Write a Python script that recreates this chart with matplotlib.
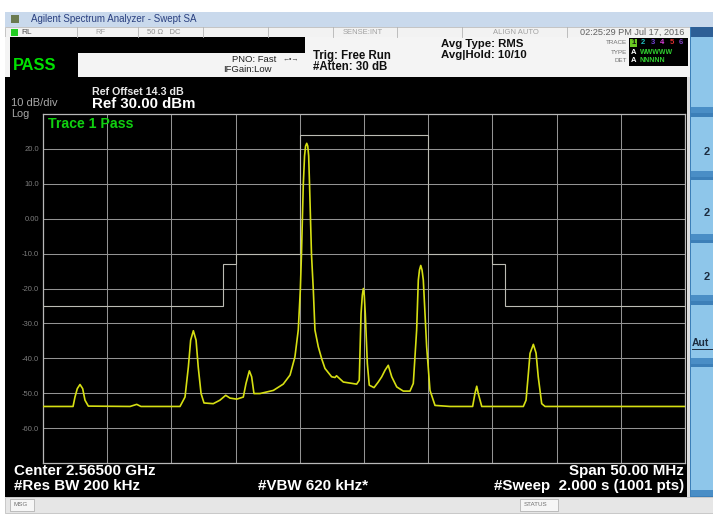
import matplotlib
matplotlib.use("Agg")
import matplotlib.pyplot as plt
from matplotlib.patches import Rectangle

plt.rcParams['font.family'] = ['Liberation Sans', 'DejaVu Sans']

freq_mhz = [2540.00, 2542.34, 2542.49, 2542.67, 2542.88, 2543.09, 2543.27, 2543.53,
            2546.78, 2547.30, 2547.63, 2550.67, 2551.06, 2551.32, 2551.50, 2551.71,
            2551.92, 2552.09, 2552.31, 2552.54, 2553.26, 2553.78, 2554.23, 2554.56,
            2555.09, 2555.60, 2555.81, 2556.07, 2556.25, 2556.43, 2556.90, 2557.94,
            2558.71, 2559.24, 2559.62, 2559.88, 2560.04, 2560.13, 2560.27, 2560.37,
            2560.45, 2560.54, 2560.62, 2560.69, 2560.76, 2560.91, 2561.05, 2561.18,
            2561.44, 2561.71, 2561.96, 2562.48, 2562.74, 2562.86, 2563.39, 2564.43,
            2564.63, 2564.77, 2564.87, 2564.95, 2565.02, 2565.10, 2565.26, 2565.41,
            2565.78, 2566.11, 2566.38, 2566.64, 2566.89, 2567.16, 2567.55, 2568.06,
            2568.58, 2568.84, 2569.10, 2569.23, 2569.32, 2569.42, 2569.52, 2569.62,
            2569.88, 2570.14, 2570.53, 2571.70, 2573.46, 2573.64, 2573.78, 2573.90,
            2574.17, 2577.41, 2577.62, 2577.80, 2577.93, 2578.19, 2578.40, 2578.57,
            2578.84, 2579.10, 2590.00]
level_dbm = [-53.8, -53.8, -51.1, -48.7, -47.5, -48.7, -52.0, -53.7,
             -53.8, -53.2, -53.8, -53.8, -51.1, -42.5, -34.8, -32.1,
             -34.8, -42.5, -50.1, -52.8, -53.0, -52.0, -50.6, -51.4,
             -51.7, -51.1, -47.2, -43.6, -45.3, -50.1, -50.1, -49.2,
             -47.4, -44.8, -39.6, -31.9, -20.5, -10.2, 9.6, 18.0,
             20.8, 21.6, 20.8, 18.0, 9.6, -10.2, -20.2, -31.9,
             -36.7, -40.2, -42.9, -45.3, -45.5, -45.0, -46.8, -47.4,
             -46.3, -27.2, -21.9, -20.0, -21.9, -27.2, -41.5, -47.7,
             -48.4, -46.8, -45.3, -43.4, -42.0, -45.3, -48.2, -49.4,
             -49.4, -47.2, -31.9, -17.6, -14.7, -13.4, -14.7, -17.6,
             -36.7, -49.2, -53.5, -53.8, -53.8, -50.1, -48.0, -50.1,
             -53.8, -53.8, -52.0, -44.4, -38.6, -36.0, -38.5, -45.3,
             -53.0, -53.8, -53.8]

mask_edges_mhz = [2540, 2554, 2555, 2560, 2570, 2575, 2576, 2590]
mask_levels_dbm = [-25, -13, -10, 24, -10, -13, -25]

y_ticks = [20, 10, 0, -10, -20, -30, -40, -50, -60]
y_tick_labels = ["20.0", "10.0", "0.00", "-10.0", "-20.0", "-30.0", "-40.0", "-50.0", "-60.0"]
x_grid_mhz = [2545, 2550, 2555, 2560, 2565, 2570, 2575, 2580, 2585]

W, H = 713, 516
fig = plt.figure(figsize=(W / 100, H / 100), dpi=100)
fig.patch.set_facecolor('white')

bg = fig.add_axes([0, 0, 1, 1], zorder=0)
bg.set_xlim(0, W)
bg.set_ylim(H, 0)
bg.axis('off')


def rect(x0, y0, x1, y1, fc, ec='none', lw=0):
    bg.add_patch(Rectangle((x0, y0), x1 - x0, y1 - y0, facecolor=fc, edgecolor=ec, linewidth=lw))


def txt(x, y, s, size=7, color='black', weight='normal', ha='left', va='center', **kw):
    fig.text(x / W, 1 - y / H, s, fontsize=size, color=color, fontweight=weight, ha=ha, va=va, **kw)


# window pieces
rect(5, 12, 713, 27, '#c9d9ec')                       # title bar
rect(5, 27, 690, 37, '#f2f2f2', '#b0b0b0', 0.5)        # status row
for xv in [77, 138, 203, 268, 333, 397, 462, 567]:
    bg.plot([xv, xv], [27, 37], color='#b4b4b4', lw=0.6)
rect(11, 28.5, 18, 35.5, '#22cc22')
rect(5, 37, 690, 77, '#f4f4f4')                        # settings area
rect(10, 37, 305, 53, 'black')
rect(10, 53, 78, 77, 'black')
rect(5, 77, 688, 497, 'black')                          # display
rect(687, 77, 690, 497, '#dcdcdc')
rect(5, 497, 713, 513, '#e6e6e6', '#b8b8b8', 0.5)      # message bar
rect(10, 499, 34, 511, '#f6f6f6', '#a8a8a8', 0.5)
rect(520, 499, 558, 511, '#f6f6f6', '#a8a8a8', 0.5)

# trace/type/det box
rect(629, 38, 688, 66, 'black')

# softkey panel
rect(690, 27, 713, 497, '#3c7fb8')
for (y0, y1) in [(37, 113), (117, 177), (180, 240), (243, 301), (305, 364), (367, 496)]:
    rect(691, y0, 713, y1, '#8ec6ea')
    rect(691, y1 - 6, 713, y1, '#4a8ec6')
rect(691, 27, 713, 37, '#2d5f96')

# icon in title bar
rect(11, 15, 19, 23, '#6a7a50')

# ---------------- graticule ----------------
ax = fig.add_axes([43 / W, (H - 463) / H, 642 / W, 349 / H], zorder=1)
ax.set_facecolor('black')
ax.set_xlim(2540, 2590)
ax.set_ylim(-70, 30)
ax.set_xticks(x_grid_mhz)
ax.set_xticklabels([])
ax.set_yticks(y_ticks)
ax.set_yticklabels(y_tick_labels, fontsize=5.5, color='#7c7c7c')
ax.tick_params(length=0, pad=3)
ax.grid(True, color='#939393', lw=0.75)
for s in ax.spines.values():
    s.set_color('#b8b8b8')
    s.set_linewidth(0.9)

ax.stairs(mask_levels_dbm, mask_edges_mhz, baseline=None, color='#bcbcb4', lw=0.8, zorder=3)
ax.plot(freq_mhz, level_dbm, color='#d6df12', lw=1.2, zorder=4, solid_joinstyle='round')

# ---------------- texts ----------------
txt(31, 19.5, "Agilent Spectrum Analyzer - Swept SA", 7, '#2a4080')
txt(21, 32, "RL", 6, '#505050')
txt(95, 32, "RF", 5.5, '#a0a0a0')
txt(147, 32, "50 \u03a9   DC", 5.5, '#909090')
txt(343, 32, "SENSE:INT", 5.5, '#a0a0a0')
txt(493, 32, "ALIGN AUTO", 5.5, '#a0a0a0')
txt(684, 32, "02:25:29 PM Jul 17, 2016", 6.6, '#606060', ha='right')

txt(13, 65, "PASS", 11.8, '#00e000', 'bold')
txt(232, 59, "PNO: Fast", 6.8, '#202020')
txt(283, 58.5, "\u2190\u2022\u2192", 5, '#404040')
txt(223, 69, "IFGain:Low", 6.8, '#202020')
txt(313, 56, "Trig: Free Run", 8.3, '#101010', 'bold')
txt(313, 67, "#Atten: 30 dB", 8.3, '#101010', 'bold')
txt(441, 44, "Avg Type: RMS", 8.2, '#101010', 'bold')
txt(441, 55, "Avg|Hold: 10/10", 8.2, '#101010', 'bold')

txt(627, 43, "TRACE", 4.5, '#707070', ha='right')
txt(627, 52, "TYPE", 4.5, '#707070', ha='right')
txt(627, 61, "DET", 4.5, '#707070', ha='right')
rect(630, 39, 637, 47, '#6ac822')
trace_cols = ['#101010', '#20c0c0', '#7040d0', '#e040e0', '#e03030', '#8040c0']
for i, c in enumerate(trace_cols):
    txt(633.5 + i * 9.5, 43, str(i + 1), 5.5, c, 'bold', ha='center')
txt(633.5, 52, "A", 5.5, 'white', 'bold', ha='center')
txt(640, 52, "WWWWW", 5, '#30d030', 'bold')
txt(633.5, 61, "A", 5.5, 'white', 'bold', ha='center')
txt(640, 61, "NNNNN", 5, '#30d030', 'bold')

txt(92, 92, "Ref Offset 14.3 dB", 7.7, '#e8e8e8', 'bold')
txt(92, 104, "Ref 30.00 dBm", 10.8, 'white', 'bold')
txt(11, 103.5, "10 dB/div", 8, '#a8a8a8')
txt(11, 113.8, "Log", 7.8, '#a8a8a8')
txt(48, 124, "Trace 1 Pass", 10.2, '#10d010', 'bold')

txt(14, 471, "Center 2.56500 GHz", 10.9, 'white', 'bold')
txt(14, 486, "#Res BW 200 kHz", 10.9, 'white', 'bold')
txt(258, 486, "#VBW 620 kHz*", 10.9, 'white', 'bold')
txt(684, 471, "Span 50.00 MHz", 10.9, 'white', 'bold', ha='right')
txt(684, 486, "#Sweep  2.000 s (1001 pts)", 10.9, 'white', 'bold', ha='right')

txt(13, 505, "MSG", 4.5, '#707070')
txt(524, 505, "STATUS", 4.5, '#707070')

for yy in [152, 213, 277]:
    txt(704, yy, "2", 8, '#1c2c40', 'bold')
txt(692, 343, "Aut", 7.5, '#1c2c40', 'bold')
bg.plot([692, 713], [349, 349], color='#1c2c40', lw=0.7)

fig.savefig("out.png", dpi=100, facecolor=fig.get_facecolor())
